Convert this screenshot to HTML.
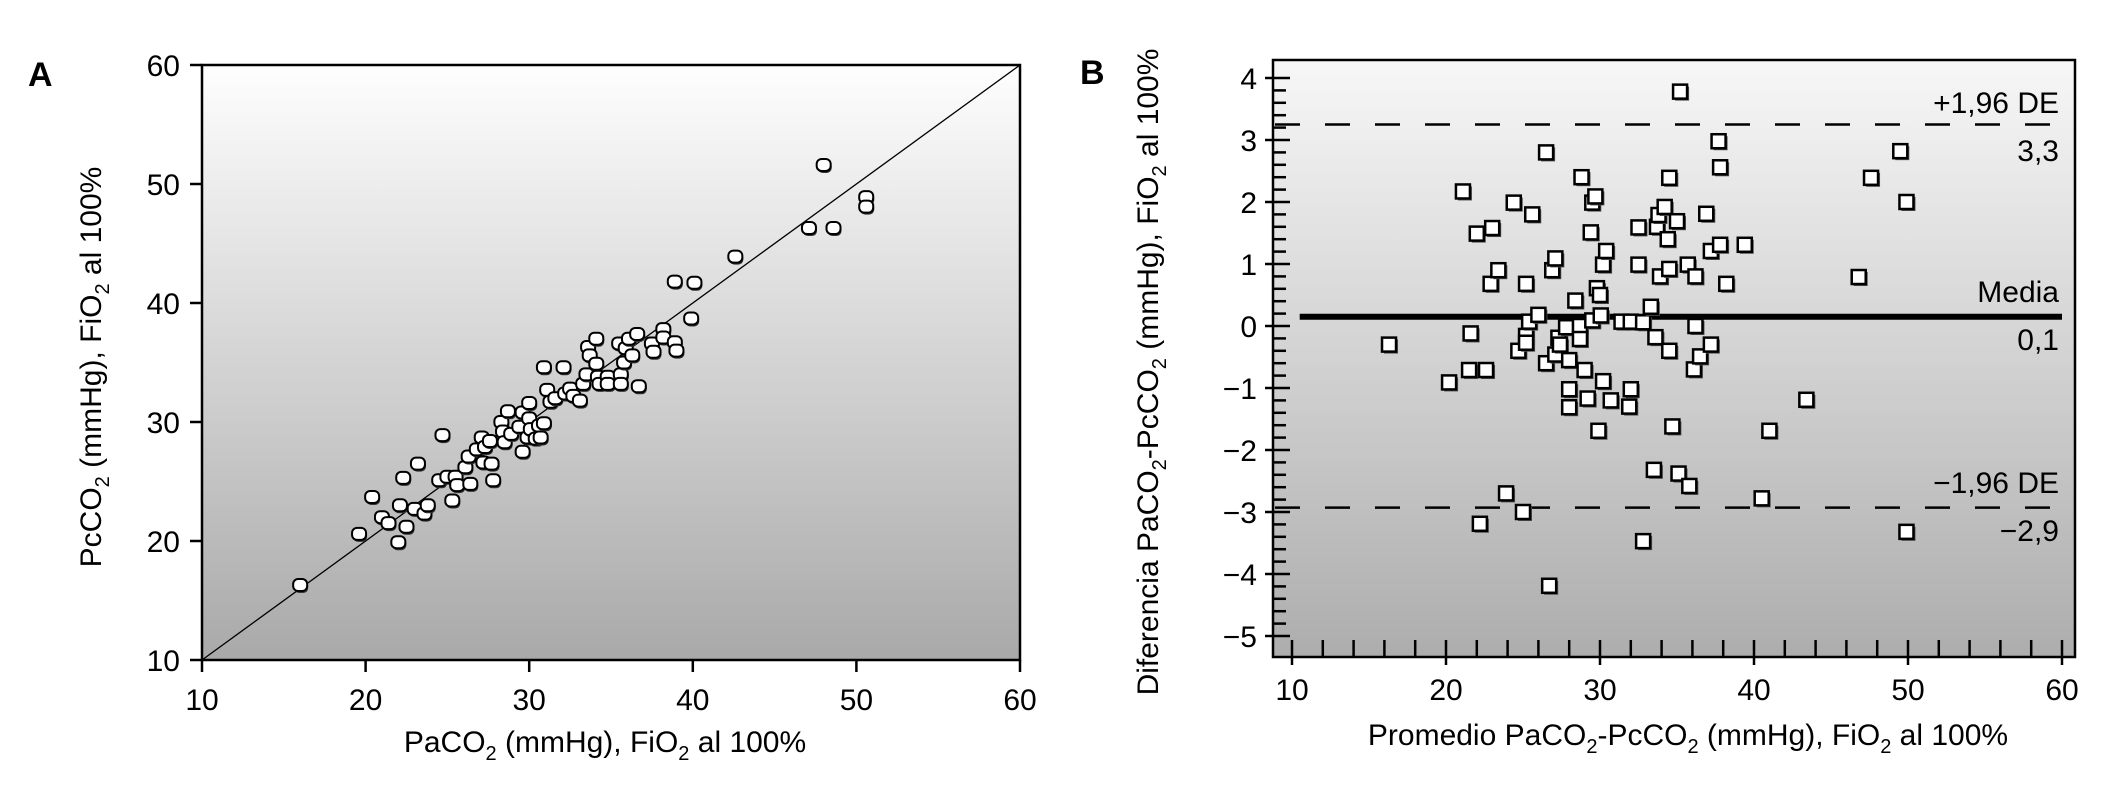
<!DOCTYPE html>
<html><head><meta charset="utf-8"><style>
html,body{margin:0;padding:0;background:#fff;}
svg{display:block;font-family:"Liberation Sans Narrow","Liberation Sans",sans-serif;}
</style></head><body>
<svg id="fig" width="2108" height="787" viewBox="0 0 2108 787" xmlns="http://www.w3.org/2000/svg">
<defs>
<linearGradient id="gA" x1="0" y1="0" x2="0" y2="1"><stop offset="0" stop-color="#fefefe"/><stop offset="1" stop-color="#a9a9a9"/></linearGradient>
<linearGradient id="gB" x1="0" y1="0" x2="0" y2="1"><stop offset="0" stop-color="#f7f7f7"/><stop offset="1" stop-color="#adadad"/></linearGradient>
</defs>
<g id="A"></g>
<g id="B"></g>
</svg>
<script>
// Panel A data
const aX = [16,19.6,20.4,21,21.4,22,22.1,22.3,22.5,23,23.2,23.6,23.8,24.5,24.7,25,25.3,25.5,25.6,26.1,26.3,26.4,26.8,27.1,27.2,27.3,27.6,27.7,27.8,28.3,28.4,28.5,28.7,28.9,29.4,29.6,29.6,29.9,30,30,30.1,30.4,30.6,30.7,30.9,30.9,31.1,31.3,31.6,32.1,32.2,32.5,32.7,33.1,33.3,33.5,33.6,33.7,34.1,34.1,34.2,34.3,34.8,34.8,35.5,35.6,35.6,35.8,35.9,36.1,36.3,36.6,36.7,37.5,37.6,38.2,38.2,38.9,38.9,39,39.9,40.1,42.6,47.1,48,48.6,50.6,50.6];
const aY = [16.3,20.6,23.7,22,21.5,19.9,23,25.3,21.2,22.7,26.5,22.3,23,25.1,28.9,25.4,23.4,25.4,24.7,26.2,27.1,24.8,27.7,28.7,26.6,27.9,28.4,26.5,25.1,30,29.2,28.3,30.9,29,29.6,30.8,27.5,28.7,31.6,30.3,29.4,28.6,29.7,28.7,34.6,29.9,32.7,31.7,32,34.6,32.4,32.8,32.2,31.8,33.2,34,36.3,35.6,37,34.9,33.8,33.2,33.8,33.2,36.6,34,33.2,35,36.2,37,35.6,37.4,33,36.6,35.9,37.8,37.1,41.8,36.7,36,38.7,41.7,43.9,46.3,51.6,46.3,48.9,48.1];
const aTicks = [10,20,30,40,50,60];
// Panel B data
const bX = [16.3,20.2,21.1,21.6,21.5,22.0,22.2,22.6,22.9,23.0,23.4,23.9,24.4,24.7,25.0,25.2,25.2,25.2,25.4,25.6,26.0,26.5,26.5,26.7,26.9,27.1,27.1,27.3,27.4,27.8,28.0,28.0,28.0,28.4,28.7,28.7,28.8,29.0,29.2,29.4,29.5,29.5,29.7,29.8,29.9,30.0,30.05,30.2,30.2,30.4,30.7,31.4,32.0,32.0,31.9,32.5,32.5,32.8,32.8,33.3,33.5,33.6,33.7,33.8,33.9,34.2,34.4,34.5,34.5,34.5,34.7,35.0,35.1,35.2,35.7,35.8,36.1,36.2,36.2,36.5,36.9,37.2,37.2,37.7,37.8,37.8,38.2,39.4,40.5,41.0,43.4,46.8,47.6,49.5,49.9,49.9];
const bY = [-0.3,-0.91,2.17,-0.12,-0.71,1.49,-3.19,-0.71,0.68,1.58,0.9,-2.7,1.99,-0.4,-3.0,0.68,-0.16,-0.27,0.07,1.8,0.18,2.8,-0.6,-4.19,0.9,1.09,-0.46,-0.19,-0.3,-0.02,-0.55,-1.02,-1.31,0.41,0.0,-0.21,2.4,-0.71,-1.17,1.51,1.99,0.09,2.09,0.61,-1.69,0.5,0.17,-0.89,0.99,1.21,-1.2,0.07,0.07,-1.02,-1.3,0.99,1.59,0.06,-3.47,0.31,-2.32,-0.18,1.6,1.79,0.8,1.92,1.4,0.92,2.39,-0.4,-1.62,1.69,-2.38,3.78,0.99,-2.58,-0.7,0.0,0.8,-0.49,1.81,1.21,-0.3,2.98,2.56,1.31,0.68,1.31,-2.78,-1.69,-1.19,0.79,2.39,2.82,2.0,-3.32];
const bXTicks = [10,20,30,40,50,60];
const bYTicks = [4,3,2,1,0,-1,-2,-3,-4,-5];
const bYTickLabels = ["4","3","2","1","0","\u22121","\u22122","\u22123","\u22124","\u22125"];
const bMean = [0.15];
const bUpper = [3.25];
const bLower = [-2.93];

const NS="http://www.w3.org/2000/svg";
function mk(parent,tag,attrs,text){const e=document.createElementNS(NS,tag);for(const k in attrs)e.setAttribute(k,attrs[k]);if(text!==undefined)e.textContent=text;parent.appendChild(e);return e;}

// ---------- Panel A ----------
const A=document.getElementById('A');
const axL=202,axR=1020,ayT=65,ayB=660;
const ax=v=>axL+(v-10)/50*(axR-axL);
const ay=v=>ayB-(v-10)/50*(ayB-ayT);
let r=mk(A,'rect',{x:axL,y:ayT,width:axR-axL,height:ayB-ayT,fill:'url(#gA)',stroke:'#000','stroke-width':2.5});


let id=mk(A,'line',{x1:ax(10),y1:ay(10),x2:ax(60),y2:ay(60),stroke:'#000','stroke-width':1.3});


aTicks.forEach(t=>{
  let l=mk(A,'line',{x1:ax(t),y1:ayB,x2:ax(t),y2:ayB+12,stroke:'#000','stroke-width':2.5});
  
  
  let tx=mk(A,'text',{x:ax(t),y:ayB+50,'font-size':30,'text-anchor':'middle'},String(t));
  
  
  let l2=mk(A,'line',{x1:axL-12,y1:ay(t),x2:axL,y2:ay(t),stroke:'#000','stroke-width':2.5});
  
  
  let ty=mk(A,'text',{x:axL-22,y:ay(t)+11,'font-size':30,'text-anchor':'end'},String(t));
  
  
});
aX.forEach((v,i)=>{
  const cx=ax(v),cy=ay(aY[i]);
  mk(A,'rect',{x:cx-6,y:cy-4,width:14,height:12,rx:5,fill:'#333'});
  let p=mk(A,'rect',{x:cx-7,y:cy-6,width:14,height:12,rx:5,fill:'#fff',stroke:'#000','stroke-width':2});
  
  
});
let xt=mk(A,'text',{x:605,y:752,'font-size':30,'text-anchor':'middle'});
xt.innerHTML='PaCO<tspan font-size="20" dy="8">2</tspan><tspan dy="-8"> (mmHg), FiO</tspan><tspan font-size="20" dy="8">2</tspan><tspan dy="-8"> al 100%</tspan>';


let yt=mk(A,'text',{x:0,y:0,'font-size':30,'text-anchor':'middle',transform:'translate(101,367) rotate(-90)'});
yt.innerHTML='PcCO<tspan font-size="20" dy="8">2</tspan><tspan dy="-8"> (mmHg), FiO</tspan><tspan font-size="20" dy="8">2</tspan><tspan dy="-8"> al 100%</tspan>';


let la=mk(A,'text',{x:28,y:86,'font-size':34,'font-weight':'bold','font-family':'Liberation Sans, sans-serif'},'A');



// ---------- Panel B ----------
const B=document.getElementById('B');
const bL=1273,bR=2075,bT=60,bB=657;
const bx=v=>1292+(v-10)/50*(2062-1292);
const by=v=>636-(v+5)*62;
let rb=mk(B,'rect',{x:bL,y:bT,width:bR-bL,height:bB-bT,fill:'url(#gB)',stroke:'#000','stroke-width':2.5});


for(let k=0;k<=45;k++){
  const v=-5+k*0.2;
  if(Math.abs(v-Math.round(v))<1e-6) continue;
  let m=mk(B,'line',{x1:bL,y1:by(v),x2:bL+13,y2:by(v),stroke:'#000','stroke-width':2.5});
  
  
}
for(let v=12;v<60;v+=2){
  if(v%10===0) continue;
  let m=mk(B,'line',{x1:bx(v),y1:bB-17,x2:bx(v),y2:bB,stroke:'#000','stroke-width':2.5});
  
  
}
bYTicks.forEach((t,i)=>{
  let l=mk(B,'line',{x1:1265,y1:by(t),x2:1290,y2:by(t),stroke:'#000','stroke-width':2.5});
  
  
  let tx=mk(B,'text',{x:1257,y:by(t)+11,'font-size':30,'text-anchor':'end'},bYTickLabels[i]);
  
  
});
bXTicks.forEach(t=>{
  let l=mk(B,'line',{x1:bx(t),y1:640,x2:bx(t),y2:665,stroke:'#000','stroke-width':2.5});
  
  
  let tx=mk(B,'text',{x:bx(t),y:700,'font-size':30,'text-anchor':'middle'},String(t));
  
  
});
let ml=mk(B,'line',{x1:bx(10.5),y1:by(bMean[0]),x2:bx(60),y2:by(bMean[0]),stroke:'#000','stroke-width':6});


let ul=mk(B,'line',{x1:bL+2,y1:by(bUpper[0]),x2:2062,y2:by(bUpper[0]),stroke:'#000','stroke-width':2.5,'stroke-dasharray':'25,25'});


let ll=mk(B,'line',{x1:bL+2,y1:by(bLower[0]),x2:2062,y2:by(bLower[0]),stroke:'#000','stroke-width':2.5,'stroke-dasharray':'25,25'});


bX.forEach((v,i)=>{
  const cx=bx(v),cy=by(bY[i]);
  mk(B,'rect',{x:cx-5,y:cy-5,width:14,height:14,fill:'#555'});
  let p=mk(B,'rect',{x:cx-7,y:cy-7,width:14,height:14,fill:'#fff',stroke:'#000','stroke-width':2.5});
  
  
});
const lbls=[['+1,96 DE',113,'upper-limit-label'],['3,3',161,'upper-limit-value'],['Media',302,'mean-label'],['0,1',350,'mean-value'],['\u22121,96 DE',493,'lower-limit-label'],['\u22122,9',541,'lower-limit-value']];
lbls.forEach(l=>{
  let t=mk(B,'text',{x:2059,y:l[1],'font-size':30,'text-anchor':'end'},l[0]);
  
  
});
let xb=mk(B,'text',{x:1688,y:745,'font-size':30,'text-anchor':'middle'});
xb.innerHTML='Promedio PaCO<tspan font-size="20" dy="8">2</tspan><tspan dy="-8">-PcCO</tspan><tspan font-size="20" dy="8">2</tspan><tspan dy="-8"> (mmHg), FiO</tspan><tspan font-size="20" dy="8">2</tspan><tspan dy="-8"> al 100%</tspan>';


let yb=mk(B,'text',{x:0,y:0,'font-size':30,'text-anchor':'middle',transform:'translate(1158,372) rotate(-90)'});
yb.innerHTML='Diferencia PaCO<tspan font-size="20" dy="8">2</tspan><tspan dy="-8">-PcCO</tspan><tspan font-size="20" dy="8">2</tspan><tspan dy="-8"> (mmHg), FiO</tspan><tspan font-size="20" dy="8">2</tspan><tspan dy="-8"> al 100%</tspan>';


let lb=mk(B,'text',{x:1080,y:84,'font-size':34,'font-weight':'bold','font-family':'Liberation Sans, sans-serif'},'B');


</script>
</body></html>
